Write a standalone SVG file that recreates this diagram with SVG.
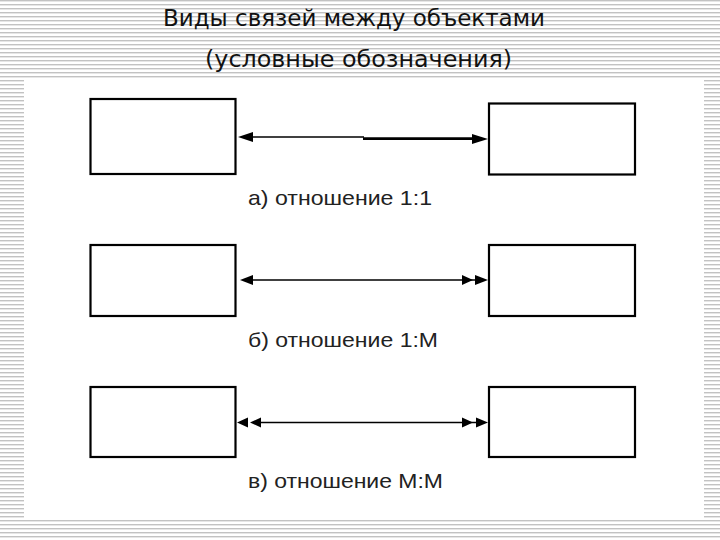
<svg xmlns="http://www.w3.org/2000/svg" width="720" height="540" viewBox="0 0 720 540">
<defs>
<pattern id="stripes" x="0" y="0" width="8" height="4" patternUnits="userSpaceOnUse">
<rect x="0" y="0" width="8" height="4" fill="#ffffff"/>
<rect x="0" y="0" width="8" height="1.4" fill="#c2c2c2"/>
</pattern>
<style>
.box{fill:#ffffff;stroke:#000000;stroke-width:2.2}
.ln{stroke:#000000;stroke-width:1.6;fill:none}
.ah{fill:#000000}
.title{font-family:"DejaVu Sans Condensed","DejaVu Sans",sans-serif;font-size:23px;fill:#111111}
.lbl{font-family:"Liberation Sans",Arial,sans-serif;font-size:21px;fill:#222222}
</style>
</defs>
<rect x="0" y="0" width="720" height="540" fill="url(#stripes)"/>
<rect x="24" y="79" width="680" height="441" fill="#ffffff"/>
<text class="title" x="163" y="26" textLength="382" lengthAdjust="spacingAndGlyphs">Виды связей между объектами</text>
<text class="title" x="205" y="67" textLength="307" lengthAdjust="spacingAndGlyphs">(условные обозначения)</text>
<g id="node-a-left"><rect class="box" x="90.5" y="99" width="145" height="75"/></g>
<g id="node-a-right"><rect class="box" x="489" y="103.5" width="146" height="71"/></g>
<g id="node-b-left"><rect class="box" x="90.5" y="245" width="145" height="71"/></g>
<g id="node-b-right"><rect class="box" x="489" y="245" width="146" height="71"/></g>
<g id="node-c-left"><rect class="box" x="90.5" y="387" width="145" height="70"/></g>
<g id="node-c-right"><rect class="box" x="489" y="387" width="146" height="70"/></g>
<g id="connectors">
<line class="ln" x1="250" y1="137" x2="364" y2="137"/>
<line class="ln" x1="363" y1="138.6" x2="474" y2="138.6" style="stroke-width:2.6"/>
<polygon class="ah" points="238,137 253,132 253,142"/>
<polygon class="ah" points="488,139 472,134 472,144"/>
<line class="ln" x1="250" y1="280" x2="476" y2="280"/>
<polygon class="ah" points="240,280 253,275 253,285"/>
<polygon class="ah" points="473,280 462,275 462,285"/>
<polygon class="ah" points="488,280 475,275 475,285"/>
<line class="ln" x1="258" y1="422.5" x2="476" y2="422.5"/>
<polygon class="ah" points="237,422.5 248,417.5 248,427.5"/>
<polygon class="ah" points="250,422.5 261,417.5 261,427.5"/>
<polygon class="ah" points="473,422.5 462,417.5 462,427.5"/>
<polygon class="ah" points="488,422.5 476,417.5 476,427.5"/>
</g>
<text class="lbl" x="248" y="205" textLength="184" lengthAdjust="spacingAndGlyphs">а) отношение 1:1</text>
<text class="lbl" x="248" y="347" textLength="190" lengthAdjust="spacingAndGlyphs">б) отношение 1:М</text>
<text class="lbl" x="248" y="488" textLength="195" lengthAdjust="spacingAndGlyphs">в) отношение М:М</text>
</svg>
